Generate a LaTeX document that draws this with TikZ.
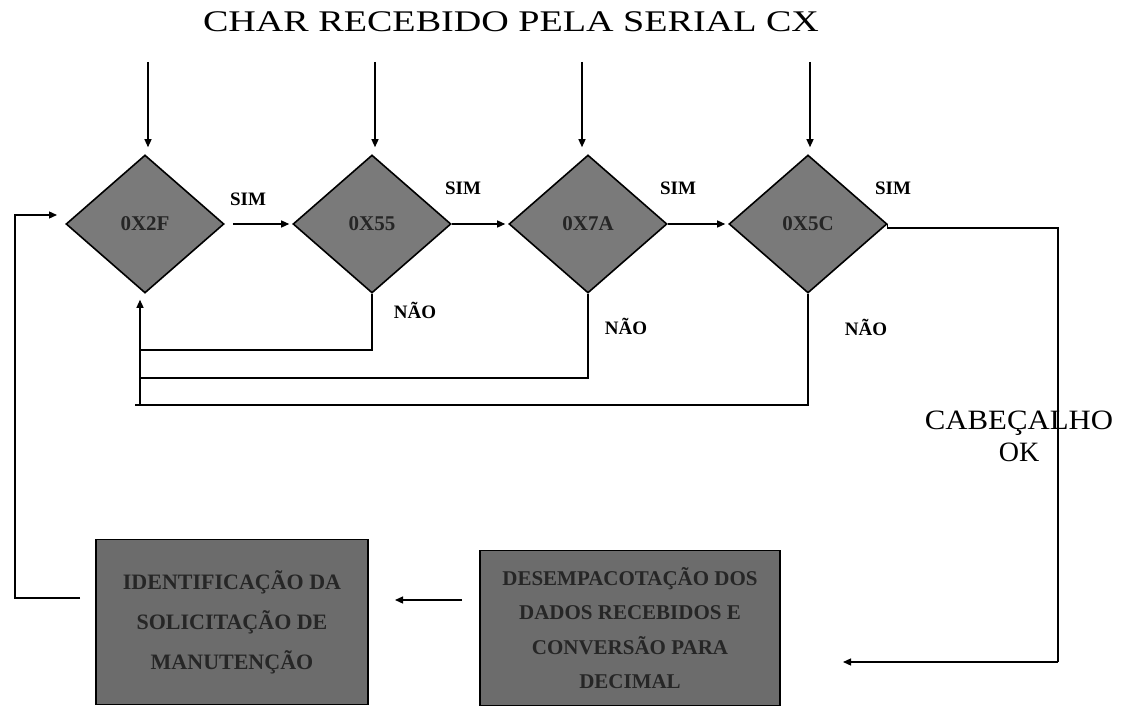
\documentclass[tikz,border=0pt]{standalone}
\usepackage{fontspec}
\setmainfont{Liberation Serif}
\usetikzlibrary{shapes.geometric,arrows.meta}
\definecolor{dfill}{RGB}{122,122,122}
\definecolor{bfill}{RGB}{108,108,108}
\tikzset{
  dec/.style={diamond, draw=black, line width=1.6pt, fill=dfill, inner sep=0pt,
    minimum width=158pt, minimum height=138pt, font=\fontsize{21}{23}\selectfont\bfseries, text=black!85},
  procbox/.style={rectangle, draw=black, line width=1.6pt, fill=bfill, inner sep=0pt, align=center, text=black!85},
  conn/.style={line width=1.3pt, draw=black},
  arr/.style={conn, -{Triangle[length=8pt,width=7pt]}},
  lbl/.style={font=\fontsize{19}{21}\selectfont\bfseries, inner sep=0pt},
}
\begin{document}
\begin{tikzpicture}[x=1pt,y=-1pt]
\useasboundingbox[fill=white] (0,0) rectangle (1121,708);

\node[inner sep=0pt, font=\fontsize{30}{32}\selectfont] (title) at (511,22) {\scalebox{1.27}[1]{CHAR RECEBIDO PELA SERIAL CX}};

\node[dec] (d1) at (145,224) {0X2F};
\node[dec] (d2) at (372,224) {0X55};
\node[dec] (d3) at (588,224) {0X7A};
\node[dec] (d4) at (808,224) {0X5C};

\coordinate (s1) at (148,62);
\coordinate (s2) at (375,62);
\coordinate (s3) at (582,62);
\coordinate (s4) at (810,62);
\foreach \i in {1,...,4}{\draw[arr, shorten >=7pt] (s\i) -- (s\i |- d\i.north);}

\draw[arr, shorten <=8pt, shorten >=3pt] (d1.east) -- (d2.west);
\draw[arr, shorten >=3pt] (d2.east) -- (d3.west);
\draw[arr, shorten >=3pt] (d3.east) -- (d4.west);

\node[lbl] (sim1) at (248,199) {SIM};
\node[lbl] (sim2) at (463,188) {SIM};
\node[lbl] (sim3) at (678,188) {SIM};
\node[lbl] (sim4) at (893,188) {SIM};

\node[lbl] (nao2) at (415,310) {NÃO};
\node[lbl] (nao3) at (626,326) {NÃO};
\node[lbl] (nao4) at (866,327) {NÃO};

% NAO loops
\coordinate (j1) at (140,350);
\coordinate (j2) at (140,378);
\coordinate (j3) at (135,405);
\draw[conn] (d2.south) |- (j1);
\draw[conn] (d3.south) |- (j2);
\draw[conn] (d4.south) |- (j3);
\draw[arr, shorten >=6pt] (j3 -| j1) -- (j1 |- d1.south);

% boxes
\node[procbox, minimum width=272pt, minimum height=165pt, font=\fontsize{22}{40}\selectfont\bfseries] (b1) at (232,622) {IDENTIFICAÇÃO DA\\SOLICITAÇÃO DE\\MANUTENÇÃO};
\node[procbox, minimum width=300pt, minimum height=155pt, font=\fontsize{21}{34.5}\selectfont\bfseries] (b2) at (630,628) {\raisebox{0pt}{DESEMPACOTAÇÃO DOS}\\DADOS RECEBIDOS E\\CONVERSÃO PARA\\DECIMAL};

% header ok path
\coordinate (r1) at (1058,228);
\coordinate (r2) at (1058,662);
\coordinate (r3) at (843,662);
\node[inner sep=0pt, font=\fontsize{28}{32}\selectfont, align=center] (cab) at (1019,436) {\scalebox{1.1}[1]{CABEÇALHO}\\OK};
\draw[conn] (d4.east) -- (r1 -| d4.east) -- (r1) -- (r2);
\draw[arr] (r2) -- (r3);

% box2 -> box1
\coordinate (m1) at (462,600);
\coordinate (m2) at (395,600);
\draw[arr] (m1) -- (m2);

% return to start
\coordinate (l1) at (80,598);
\coordinate (l2) at (15,598);
\coordinate (l3) at (15,215);
\coordinate (l4) at (57,215);
\draw[arr] (l1) -- (l2) -- (l3) -- (l4);
\end{tikzpicture}
\end{document}
